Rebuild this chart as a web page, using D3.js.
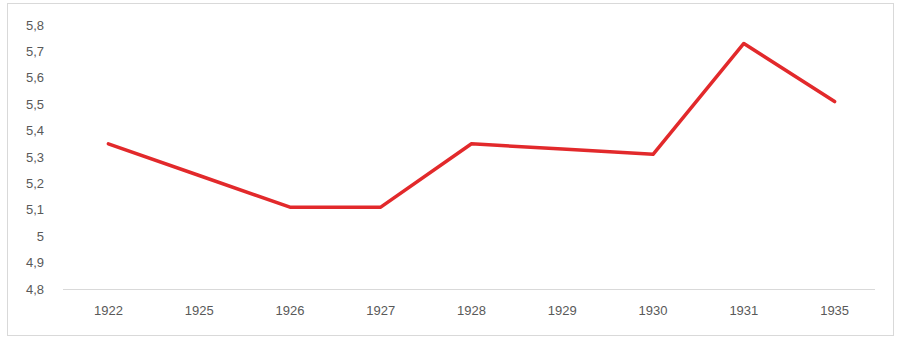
<!DOCTYPE html>
<html>
<head>
<meta charset="utf-8">
<script src="https://cdn.jsdelivr.net/npm/d3@7/dist/d3.min.js"></script>
<style>
  html, body { margin: 0; padding: 0; background: #fff; }
  svg { display: block; }
  .tick text { font-family: "Liberation Sans", Arial, sans-serif; font-size: 13px; fill: #595959; }
</style>
</head>
<body>
<svg id="chart" width="898" height="338"></svg>
<script>
// Years along the x axis
const years = ["1922", "1925", "1926", "1927", "1928", "1929", "1930", "1931", "1935"];
// Series values per year
const values = [5.35, 5.23, 5.11, 5.11, 5.35, 5.33, 5.31, 5.73, 5.51];
// Y tick values
const yTicks = [4.8, 4.9, 5.0, 5.1, 5.2, 5.3, 5.4, 5.5, 5.6, 5.7, 5.8];

const W = 898, H = 338;
const margin = { left: 63, right: 18, top: 25, bottom: 49 };
const svg = d3.select("#chart");

// Outer frame
svg.append("rect")
  .attr("x", 7.5).attr("y", 3.5)
  .attr("width", W - 12).attr("height", H - 6)
  .attr("fill", "#fff").attr("stroke", "#d9d9d9").attr("stroke-width", 1);

const x = d3.scaleBand().domain(years).range([margin.left, W - margin.right]);
const y = d3.scaleLinear().domain([4.8, 5.8]).range([H - margin.bottom, margin.top]);

const fmt = v => (Math.round(v * 10) / 10).toString().replace(".", ",");

// Y axis: labels only
const yAxis = svg.append("g")
  .attr("transform", `translate(${margin.left - 19},0)`)
  .call(d3.axisLeft(y).tickValues(yTicks).tickFormat(fmt).tickSize(0).tickPadding(0));
yAxis.select(".domain").remove();

// X axis: baseline with labels
const xAxis = svg.append("g")
  .attr("transform", `translate(0,${H - margin.bottom})`)
  .call(d3.axisBottom(x).tickSize(0).tickPadding(17));
xAxis.select(".domain").remove();
xAxis.append("line")
  .attr("x1", margin.left).attr("x2", 875)
  .attr("y1", 0.5).attr("y2", 0.5)
  .attr("stroke", "#d9d9d9").attr("stroke-width", 1);

// Series line
const line = d3.line()
  .x((d, i) => x(years[i]) + x.bandwidth() / 2)
  .y(d => y(d));

svg.append("path")
  .datum(values)
  .attr("d", line)
  .attr("fill", "none")
  .attr("stroke", "#e2292b")
  .attr("stroke-width", 3.5)
  .attr("stroke-linejoin", "round")
  .attr("stroke-linecap", "round");
</script>
</body>
</html>
